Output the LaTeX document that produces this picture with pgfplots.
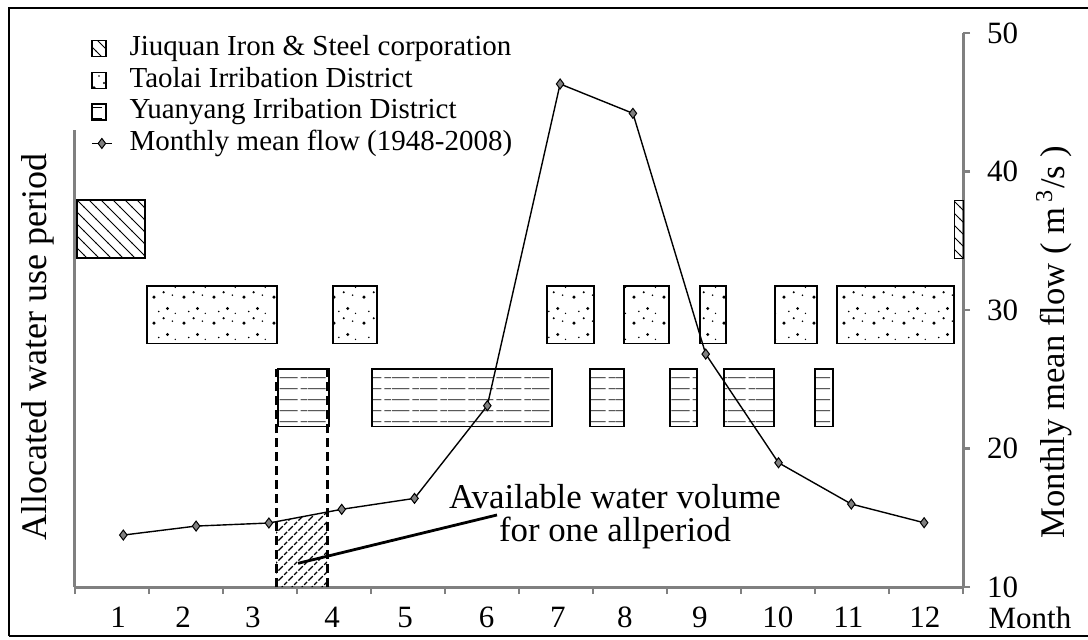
\documentclass[border=0pt]{standalone}
\usepackage{pgfplots}
\pgfplotsset{compat=1.18}
\usepackage{fontspec}
\setmainfont{Liberation Serif}
\usetikzlibrary{patterns}

\pgfdeclarepatternformonly{nwlines}{\pgfqpoint{-1pt}{-1pt}}{\pgfqpoint{7pt}{7pt}}{\pgfqpoint{6pt}{6pt}}{%
  \pgfsetlinewidth{0.4pt}\pgfpathmoveto{\pgfqpoint{0pt}{6pt}}\pgfpathlineto{\pgfqpoint{6pt}{0pt}}\pgfusepath{stroke}}
\pgfdeclarepatternformonly{nedashed}{\pgfqpoint{-1pt}{-1pt}}{\pgfqpoint{6pt}{6pt}}{\pgfqpoint{5pt}{5pt}}{%
  \pgfsetlinewidth{0.7pt}\pgfsetdash{{2pt}{1pt}}{0pt}\pgfpathmoveto{\pgfqpoint{0pt}{0pt}}\pgfpathlineto{\pgfqpoint{5pt}{5pt}}\pgfusepath{stroke}}
\pgfdeclarepatternformonly{hlines}{\pgfqpoint{0pt}{0pt}}{\pgfqpoint{14pt}{5.6pt}}{\pgfqpoint{14pt}{5.6pt}}{%
  \pgfsetlinewidth{0.45pt}\pgfsetdash{{9pt}{1.5pt}}{0pt}\pgfpathmoveto{\pgfqpoint{0pt}{2.8pt}}\pgfpathlineto{\pgfqpoint{14pt}{2.8pt}}\pgfusepath{stroke}}
\pgfdeclarepatternformonly{sparsedots}{\pgfqpoint{0pt}{0pt}}{\pgfqpoint{15pt}{13pt}}{\pgfqpoint{15pt}{13pt}}{%
  \pgfpathcircle{\pgfqpoint{2pt}{2.5pt}}{0.9pt}
  \pgfpathcircle{\pgfqpoint{9pt}{10pt}}{0.8pt}
  \pgfpathcircle{\pgfqpoint{11.5pt}{3.5pt}}{0.45pt}
  \pgfpathcircle{\pgfqpoint{4.5pt}{8.5pt}}{0.45pt}
  \pgfpathcircle{\pgfqpoint{13pt}{7.5pt}}{0.4pt}
  \pgfpathcircle{\pgfqpoint{7pt}{5pt}}{0.6pt}
  \pgfusepath{fill}}

\pgfplotsset{
  boxlegend/.style={legend image code/.code={\draw[##1] (0pt,-4pt) rectangle (7pt,4pt);}},
  linelegend/.style={legend image code/.code={\draw[##1, mark repeat=2, mark phase=2] plot coordinates {(0pt,0pt)(5pt,0pt)(10pt,0pt)};}},
}

\begin{document}
\begin{tikzpicture}[x=1pt,y=1pt]
\useasboundingbox (0,0) rectangle (544,319.5);
\draw[line width=1pt] (4.5,1.5) -- (4.5,315.5) -- (544,315.5);
\draw[line width=1pt] (4.5,1.5) -- (544,1.5);
\begin{axis}[
  at={(37.5pt,26pt)}, anchor=south west,
  width=444pt, height=277pt, scale only axis,
  xmin=0.3365, xmax=12.534, ymin=10, ymax=50,
  axis x line*=bottom, axis y line*=right,
  axis line style={-, gray, line width=1.5pt},
  clip=false,
  xtick={0.93,1.82,2.78,3.87,4.87,5.99,6.97,7.89,8.92,9.99,10.96,12.01},
  xticklabels={1,2,3,4,5,6,7,8,9,10,11,12},
  major x tick style={draw=none},
  minor xtick={0.3365,1.353,2.370,3.386,4.403,5.419,6.436,7.452,8.469,9.485,10.502,11.518,12.534},
  minor tick length=3.5pt, major tick length=3.5pt,
  tick align=outside,
  tick style={gray, line width=1.2pt},
  ytick={10,20,30,40,50},
  ticklabel style={font=\fontsize{15.5}{16}\selectfont},
  xticklabel style={yshift=-3pt},
  yticklabel style={xshift=5pt},
  /pgf/number format/assume math mode=true,
  legend style={at={(0.011,1.005)}, anchor=north west, draw=none, fill=none,
    font=\fontsize{14.5}{16}\selectfont, row sep=1.8pt,
    nodes={inner sep=0.5pt, text height=10pt, text depth=3pt}},
  legend cell align=left,
  /tikz/every odd column/.append style={column sep=8pt},
]
% Jiuquan Iron & Steel corporation
\addplot[draw=black, line width=0.7pt, line cap=rect, pattern=nwlines, boxlegend]
  coordinates {(0.364,33.75)(1.298,33.75)(1.298,37.94)(0.364,37.94)(0.364,33.75)};
\addlegendentry{Jiuquan Iron \& Steel corporation}
% Taolai
\addplot[draw=black, line width=0.7pt, line cap=rect, pattern=sparsedots, boxlegend]
  coordinates {(1.326,27.60)(3.111,27.60)(3.111,31.73)(1.326,31.73)(1.326,27.60)};
\addlegendentry{Taolai Irribation District}
% Yuanyang
\addplot[draw=black, line width=0.7pt, line cap=rect, pattern=hlines, boxlegend]
  coordinates {(3.125,21.57)(3.826,21.57)(3.826,25.74)(3.125,25.74)(3.125,21.57)};
\addlegendentry{Yuanyang Irribation District}
% Monthly mean flow
\addplot[black, line width=0.7pt, mark=diamond*, mark size=2.5pt,
  mark options={fill=gray, draw=black, line width=0.5pt}, linelegend]
  coordinates {(1,13.75)(2,14.40)(3,14.62)(4,15.61)(5,16.40)(6,23.09)(7,46.32)(8,44.20)(9,26.82)(10,18.97)(11,15.99)(12,14.64)};
\addlegendentry{Monthly mean flow (1948-2008)}

% remaining Jiuquan box
\addplot[draw=black, line width=0.5pt, line cap=rect, pattern=nwlines, forget plot]
  coordinates {(12.42,33.75)(12.534,33.75)(12.534,37.94)(12.42,37.94)(12.42,33.75)};
% remaining Taolai boxes
\addplot[draw=black, line width=0.7pt, line cap=rect, pattern=sparsedots, forget plot]
  coordinates {(3.880,27.60)(4.485,27.60)(4.485,31.73)(3.880,31.73)(3.880,27.60)};
\addplot[draw=black, line width=0.7pt, line cap=rect, pattern=sparsedots, forget plot]
  coordinates {(6.820,27.60)(7.466,27.60)(7.466,31.73)(6.820,31.73)(6.820,27.60)};
\addplot[draw=black, line width=0.7pt, line cap=rect, pattern=sparsedots, forget plot]
  coordinates {(7.878,27.60)(8.496,27.60)(8.496,31.73)(7.878,31.73)(7.878,27.60)};
\addplot[draw=black, line width=0.7pt, line cap=rect, pattern=sparsedots, forget plot]
  coordinates {(8.920,27.60)(9.277,27.60)(9.277,31.73)(8.920,31.73)(8.920,27.60)};
\addplot[draw=black, line width=0.7pt, line cap=rect, pattern=sparsedots, forget plot]
  coordinates {(9.951,27.60)(10.528,27.60)(10.528,31.73)(9.951,31.73)(9.951,27.60)};
\addplot[draw=black, line width=0.7pt, line cap=rect, pattern=sparsedots, forget plot]
  coordinates {(10.803,27.60)(12.410,27.60)(12.410,31.73)(10.803,31.73)(10.803,27.60)};
% remaining Yuanyang boxes
\addplot[draw=black, line width=0.7pt, line cap=rect, pattern=hlines, forget plot]
  coordinates {(4.416,21.57)(6.889,21.57)(6.889,25.74)(4.416,25.74)(4.416,21.57)};
\addplot[draw=black, line width=0.7pt, line cap=rect, pattern=hlines, forget plot]
  coordinates {(7.411,21.57)(7.878,21.57)(7.878,25.74)(7.411,25.74)(7.411,21.57)};
\addplot[draw=black, line width=0.7pt, line cap=rect, pattern=hlines, forget plot]
  coordinates {(8.510,21.57)(8.881,21.57)(8.881,25.74)(8.510,25.74)(8.510,21.57)};
\addplot[draw=black, line width=0.7pt, line cap=rect, pattern=hlines, forget plot]
  coordinates {(9.250,21.57)(9.937,21.57)(9.937,25.74)(9.250,25.74)(9.250,21.57)};
\addplot[draw=black, line width=0.7pt, line cap=rect, pattern=hlines, forget plot]
  coordinates {(10.500,21.57)(10.747,21.57)(10.747,25.74)(10.500,25.74)(10.500,21.57)};

% available water volume (hatched) and dashed bounds
\addplot[draw=none, pattern=nedashed, forget plot]
  coordinates {(3.098,10)(3.098,14.72)(3.799,15.41)(3.799,10)};
\addplot[black, line width=1.5pt, dash pattern=on 4.5pt off 2.5pt, forget plot]
  coordinates {(3.098,10)(3.098,25.74)};
\addplot[black, line width=1.5pt, dash pattern=on 4.5pt off 2.5pt, forget plot]
  coordinates {(3.799,10)(3.799,25.74)};
% annotation leader line
\addplot[black, line width=1.4pt, forget plot]
  coordinates {(3.40,11.71)(6.133,15.20)};

% left axis line
\draw[gray, line width=1.5pt] (axis cs:0.3365,10) -- (axis cs:0.3365,43.0);
\end{axis}

\node[rotate=90, font=\fontsize{18}{20}\selectfont] at (19,146) {Allocated water use period};
\node[rotate=90, font=\fontsize{17.3}{19}\selectfont] at (527,148.5) {Monthly mean flow ( m\,\textsuperscript{3}/s )};
\node[font=\fontsize{15.5}{17}\selectfont] at (515,10.5) {Month};
\node[font=\fontsize{17.4}{19}\selectfont] at (307.5,71) {Available water volume};
\node[font=\fontsize{17.4}{19}\selectfont] at (307.5,53) {for one allperiod};
\end{tikzpicture}
\end{document}
